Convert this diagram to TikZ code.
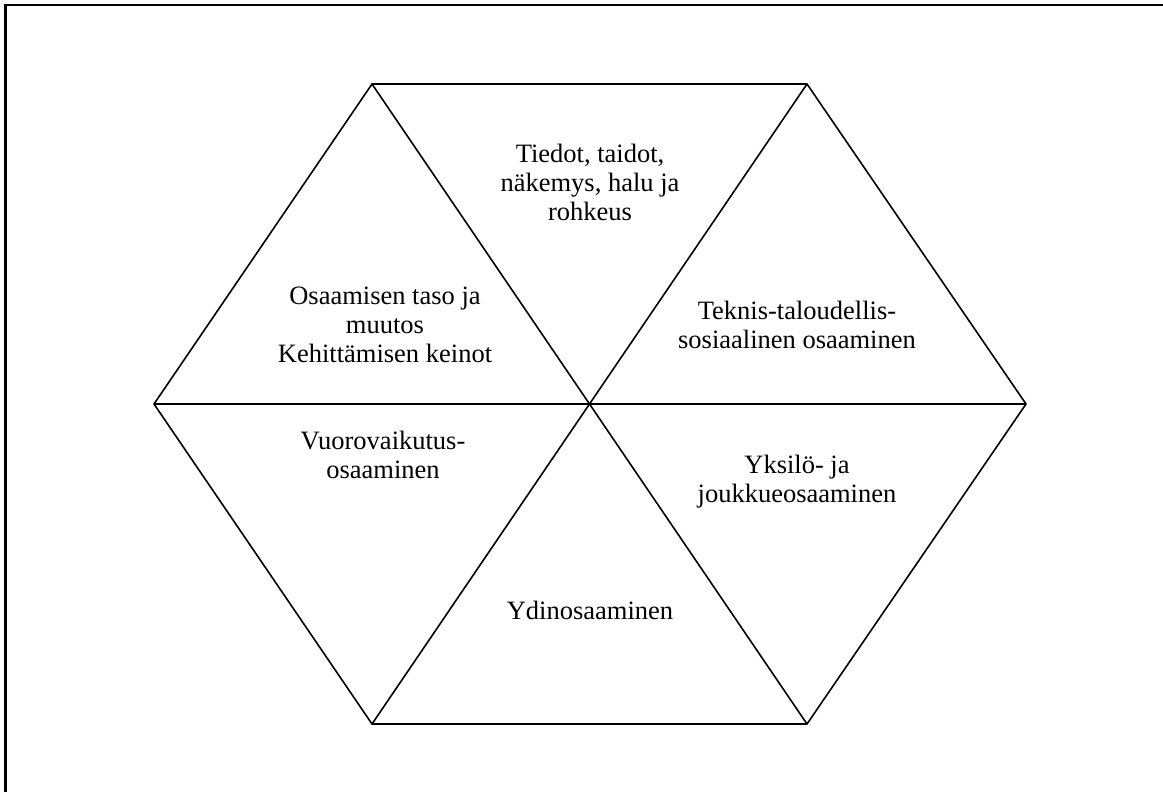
\documentclass[tikz,border=0pt]{standalone}
\usepackage{fontspec}
\setmainfont{Liberation Serif}
\begin{document}
\begin{tikzpicture}[x=1pt,y=-1pt,
  hexline/.style={line width=1.6pt,line join=miter},
  frameline/.style={line width=2.4pt},
  label/.style={align=center,font=\fontsize{26.5}{29}\selectfont,inner sep=0pt}]
\useasboundingbox[fill=white] (0,0) rectangle (1163,792);
% page frame (top and left edge)
\coordinate (fr1) at (1163,5);
\coordinate (fr0) at (5.5,5);
\coordinate (fr2) at (5.5,792);
\draw[frameline] (fr1) -- (fr0) -- (fr2);
% hexagon corners and centre
\coordinate (c)  at (590,404);
\coordinate (tl) at (372,84);
\coordinate (tr) at (807,84);
\coordinate (r)  at (1026,404);
\coordinate (br) at (807,724);
\coordinate (bl) at (372,724);
\coordinate (l)  at (154,404);
\draw[hexline] (tl) -- (tr) -- (r) -- (br) -- (bl) -- (l) -- cycle;
\draw[hexline] (tl) -- (br);
\draw[hexline] (tr) -- (bl);
\draw[hexline] (l) -- (r);
% sector labels
\node[label] (top)   at (590,182) {Tiedot, taidot,\\näkemys, halu ja\\rohkeus};
\node[label] (ul)    at (385,325) {Osaamisen taso ja\\muutos\\Kehittämisen keinot};
\node[label] (ur)    at (797,325) {Teknis-taloudellis-\\sosiaalinen osaaminen};
\node[label] (ll)    at (383,455) {Vuorovaikutus-\\osaaminen};
\node[label] (lr)    at (797,482) {Yksilö- ja\\joukkueosaaminen};
\node[label] (bot)   at (590,610) {Ydinosaaminen};
\end{tikzpicture}
\end{document}
